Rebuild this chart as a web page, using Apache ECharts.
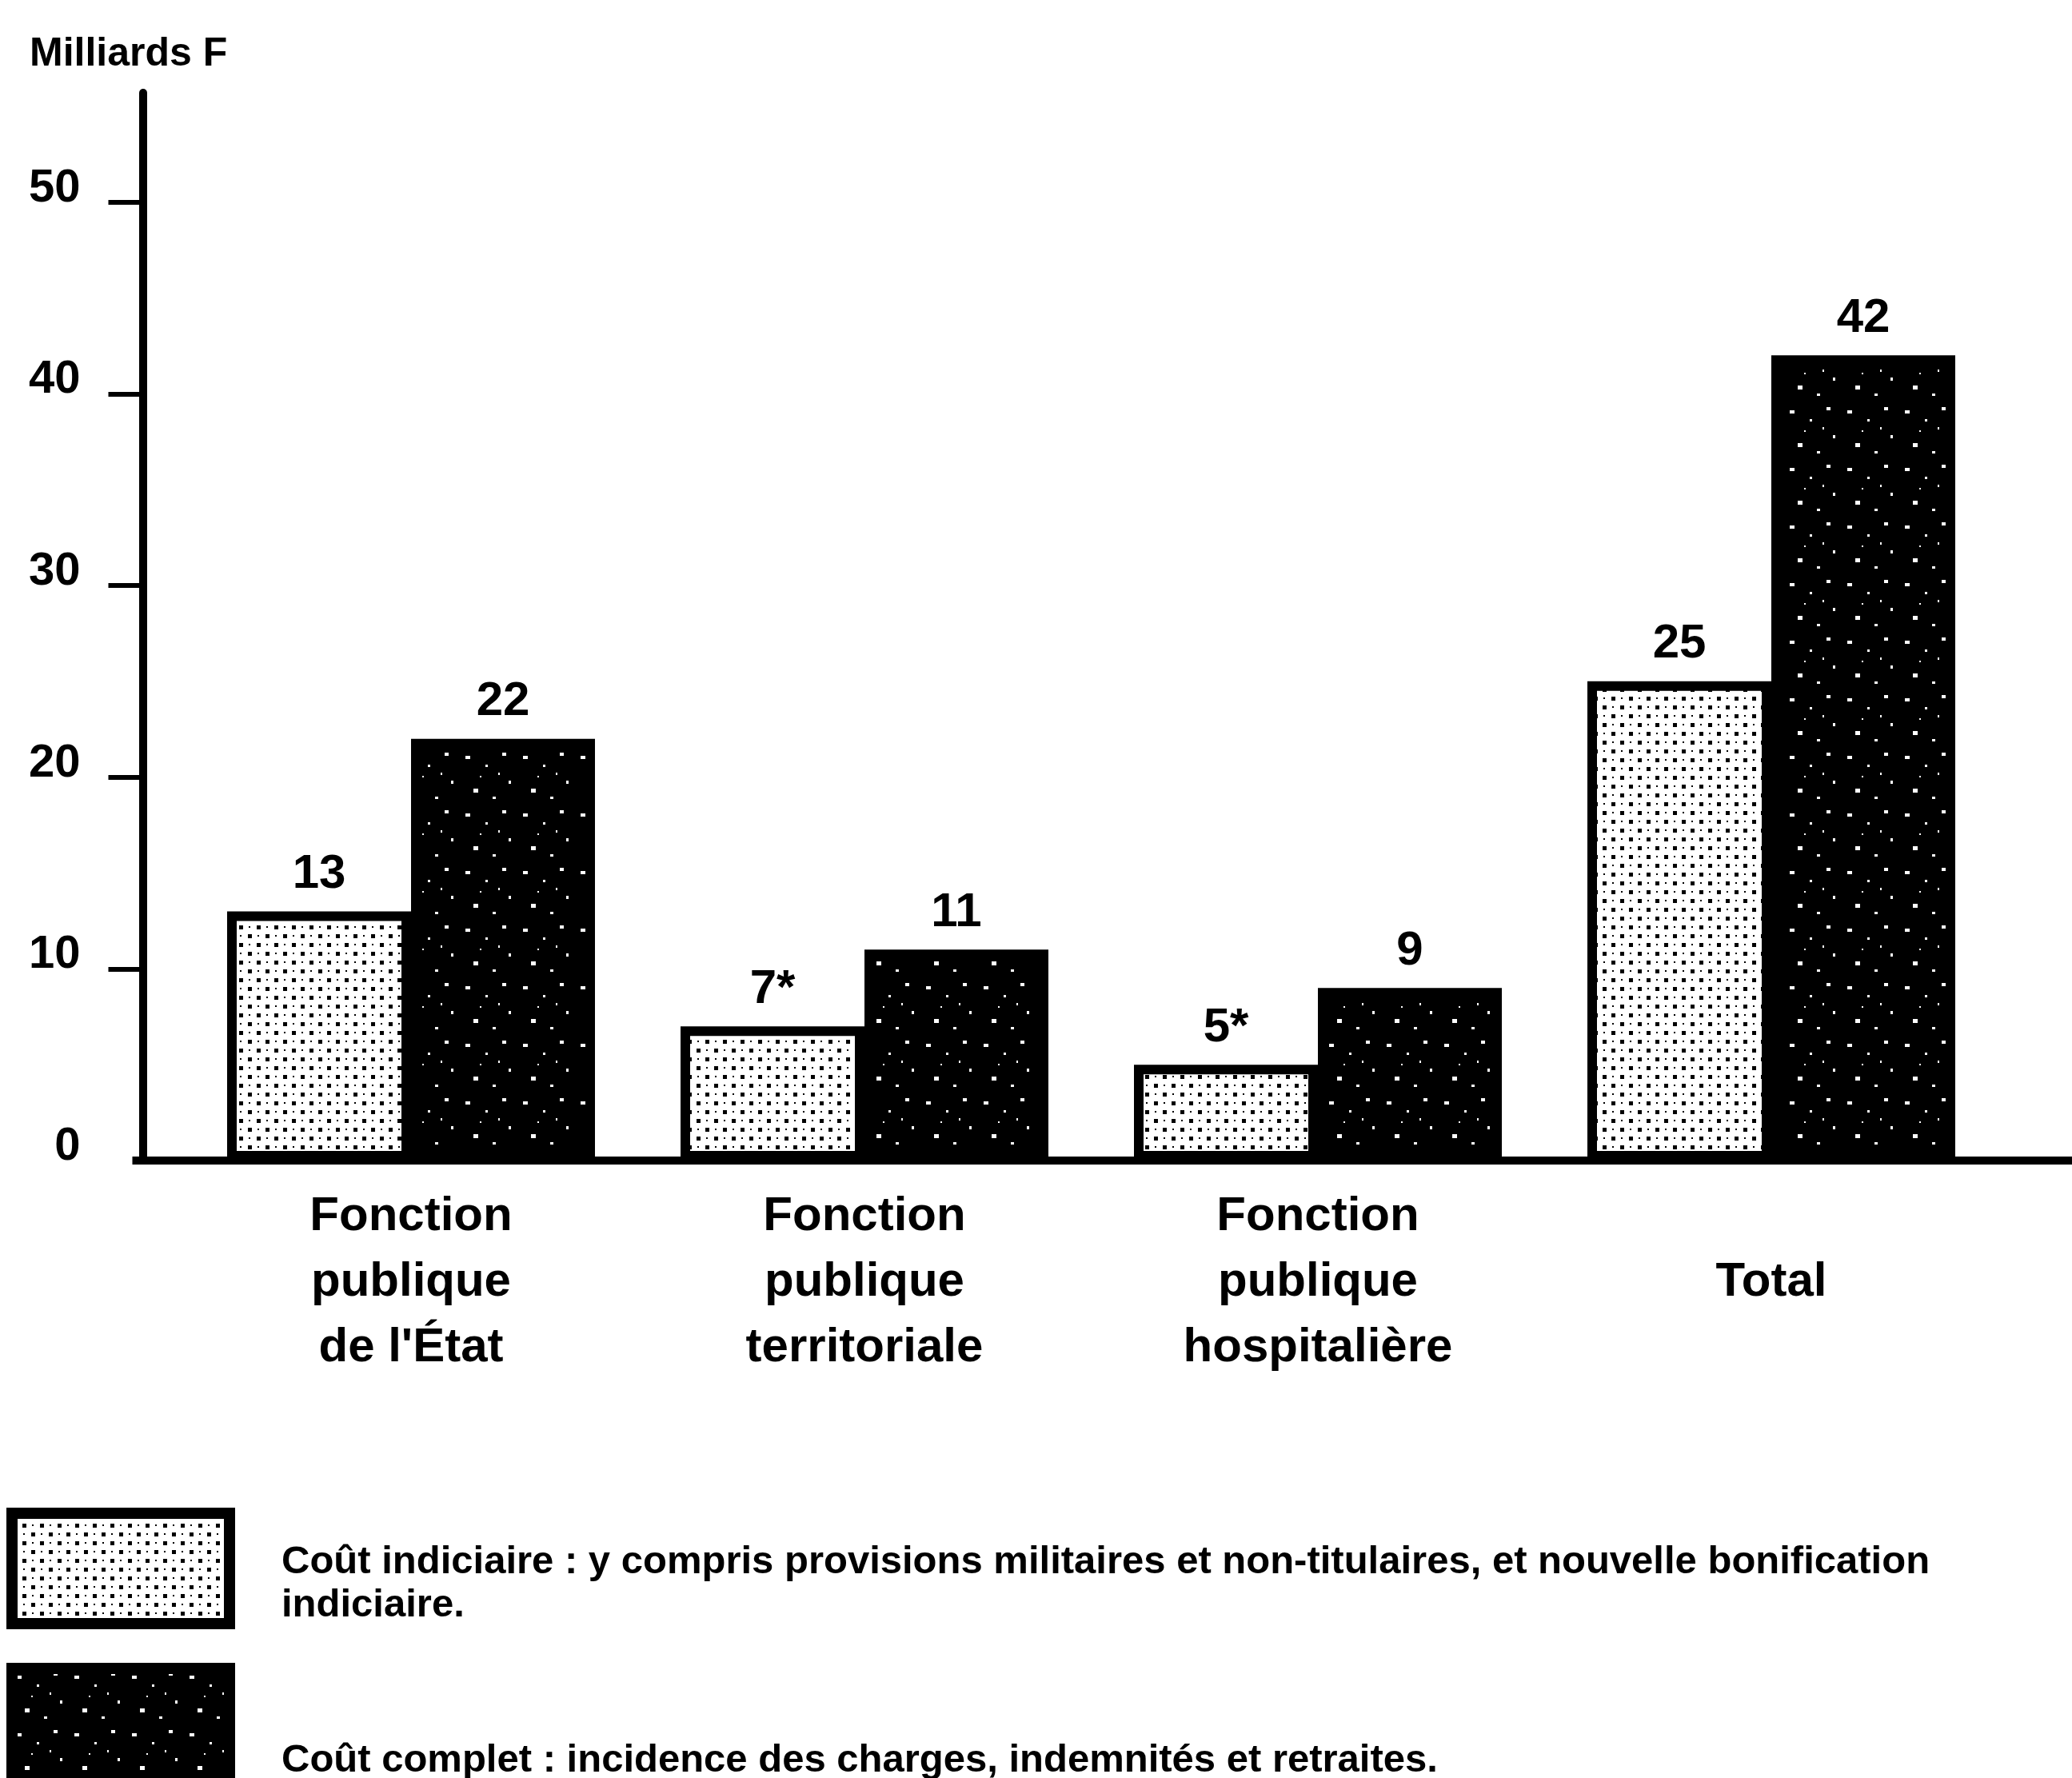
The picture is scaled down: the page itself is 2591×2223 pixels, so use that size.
<!DOCTYPE html>
<html>
<head>
<meta charset="utf-8">
<script src="https://cdn.jsdelivr.net/npm/echarts@6/dist/echarts.min.js"></script>
<style>
  html, body { margin: 0; padding: 0; background: #fff; }
  #chart { width: 2591px; height: 2223px; }
</style>
</head>
<body>
<div id="chart"></div>
<script>
// Coût des mesures salariales par fonction publique (milliards de francs)
const categories = [
  'Fonction\npublique\nde l\'État',
  'Fonction\npublique\nterritoriale',
  'Fonction\npublique\nhospitalière',
  'Total'
];
const coutIndiciaire = [13, 7, 5, 25];
const coutComplet = [22, 11, 9, 42];
// renvois affichés après certaines valeurs du coût indiciaire
const renvois = ['', '*', '*', ''];
const yTicks = [0, 10, 20, 30, 40, 50];
const seriesNames = ['Coût indiciaire', 'Coût complet'];
const legendTexts = [
  'Coût indiciaire : y compris provisions militaires et non-titulaires, et nouvelle bonification\nindiciaire.',
  'Coût complet : incidence des charges, indemnités et retraites.'
];

const SANS = "'Liberation Sans', Arial, sans-serif";
const GRID_LEFT = 230.5;
const Y_OFFSET = 52;

// Trame de remplissage : petit motif répété
function makeTile(size, bg, fg, specks) {
  const c = document.createElement('canvas');
  c.width = size; c.height = size;
  const g = c.getContext('2d');
  g.fillStyle = bg;
  g.fillRect(0, 0, size, size);
  g.fillStyle = fg;
  specks.forEach(([x, y, w, h]) => g.fillRect(x, y, w, h));
  return c;
}
const trameClaire = makeTile(22, '#ffffff', '#000000',
  [[2, 2, 5, 5], [13, 13, 5, 5], [14, 3, 2, 2], [3, 14, 2, 2]]);
const trameFoncee = makeTile(72, '#000000', '#ffffff',
  [[6, 9, 6, 4], [31, 20, 3, 3], [52, 5, 5, 4], [60, 40, 3, 4], [16, 50, 6, 5],
   [40, 60, 4, 3], [24, 34, 2, 2], [47, 30, 2, 3]]);

const fillClair = { image: trameClaire, repeat: 'repeat' };
const fillFonce = { image: trameFoncee, repeat: 'repeat' };

// Légende : une case de trame suivie du texte explicatif, légèrement abaissé
function legendFor(i, top, gap) {
  return {
    orient: 'vertical',
    left: 8,
    top: top,
    padding: 0,
    icon: 'rect',
    itemWidth: 272,
    itemHeight: 138,
    textStyle: {
      padding: [0, 0, 0, 60],
      rich: {
        gap: { fontSize: 10, lineHeight: gap },
        t: { fontFamily: SANS, fontWeight: 'bold', fontSize: 49, lineHeight: 54, color: '#000' }
      }
    },
    formatter: name => '{gap| }\n' + legendTexts[seriesNames.indexOf(name)]
      .split('\n').map(l => '{t|' + l + '}').join('\n'),
    data: [{ name: seriesNames[i], itemStyle: { borderColor: '#000', borderWidth: 14 } }]
  };
}

const chart = echarts.init(document.getElementById('chart'), null, { renderer: 'canvas' });

const option = {
  backgroundColor: '#ffffff',
  animation: false,
  title: {
    text: 'Milliards F',
    left: 37,
    top: 43,
    padding: 0,
    textStyle: { fontFamily: SANS, fontWeight: 'bold', fontSize: 50, color: '#000' }
  },
  legend: [legendFor(0, 1885, 38), legendFor(1, 2079, 92)],
  grid: { left: GRID_LEFT, right: 92.5, top: 116, bottom: 772, containLabel: false },
  xAxis: {
    type: 'category',
    data: categories,
    axisLine: { show: false },
    axisTick: { show: false },
    axisLabel: {
      margin: 152,
      verticalAlign: 'middle',
      fontFamily: SANS, fontWeight: 'bold', fontSize: 60, lineHeight: 82, color: '#000'
    }
  },
  yAxis: {
    type: 'value',
    min: 0,
    max: 55.7,
    interval: 10,
    offset: Y_OFFSET,
    splitLine: { show: false },
    axisLine: { show: true, lineStyle: { color: '#000', width: 10 } },
    axisTick: {
      show: true, length: 43, lineStyle: { color: '#000', width: 6 },
      customValues: yTicks.filter(v => v > 0)
    },
    axisLabel: {
      customValues: yTicks,
      formatter: v => (yTicks.indexOf(v) >= 0 ? String(v) : ''),
      margin: 78,
      verticalAlign: 'bottom',
      lineHeight: 34,
      fontFamily: SANS, fontWeight: 'bold', fontSize: 58, color: '#000'
    }
  },
  series: [
    {
      name: seriesNames[0],
      type: 'bar',
      data: coutIndiciaire,
      barWidth: 230,
      barGap: '0%',
      itemStyle: { color: fillClair, borderColor: '#000', borderWidth: 12 },
      label: {
        show: true, position: 'top', distance: 16,
        formatter: p => p.value + renvois[p.dataIndex],
        fontFamily: SANS, fontWeight: 'bold', fontSize: 60, color: '#000'
      }
    },
    {
      name: seriesNames[1],
      type: 'bar',
      data: coutComplet,
      barWidth: 230,
      itemStyle: { color: fillFonce, borderColor: '#000', borderWidth: 12 },
      label: {
        show: true, position: 'top', distance: 16,
        formatter: '{c}',
        fontFamily: SANS, fontWeight: 'bold', fontSize: 60, color: '#000'
      }
    }
  ]
};

chart.setOption(option);

// Ligne de base prolongée sur toute la largeur, depuis l'axe vertical
const base = chart.convertToPixel({ yAxisIndex: 0 }, 0);
chart.setOption({
  graphic: [{
    type: 'line',
    z: 10,
    shape: { x1: GRID_LEFT - Y_OFFSET - 13, y1: base, x2: 2591, y2: base },
    style: { stroke: '#000', lineWidth: 10 }
  }]
});
</script>
</body>
</html>
